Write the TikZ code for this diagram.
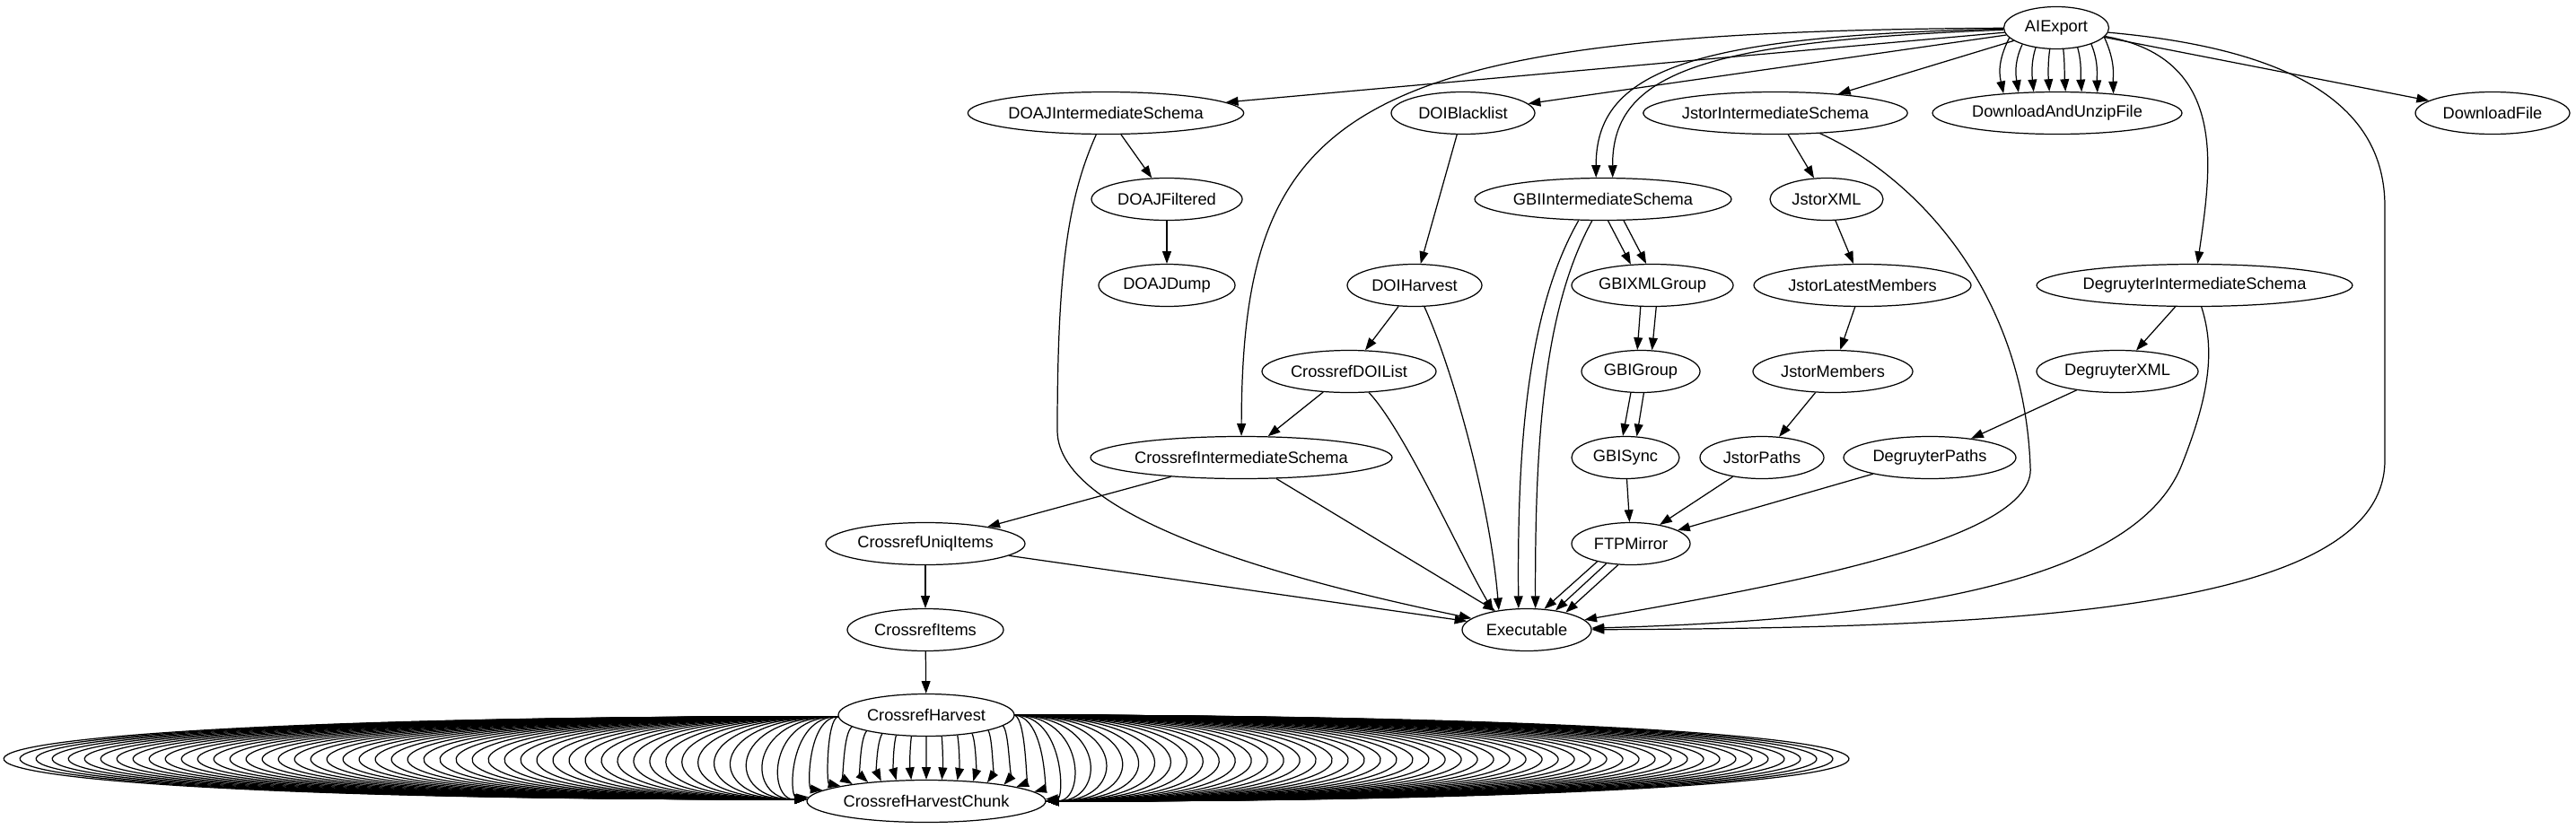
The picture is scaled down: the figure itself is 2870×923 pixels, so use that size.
\documentclass[tikz,border=0pt]{standalone}
\usepackage{fontspec}
\setmainfont{Liberation Sans}
\usetikzlibrary{shapes.geometric,arrows.meta}
% point on the top (#5=1) or bottom (#5=-1) border of node #2 (x radius #3) at x offset #4
\newcommand\mkbp[5]{%
  \pgfmathsetmacro\mkbpang{atan2((#5)*23.5*sqrt(max(0,1-((#4)/(#3))^2)),(#4))}%
  \coordinate (#1) at (#2.\mkbpang);}
\begin{document}
\begin{tikzpicture}[x=0.02cm,y=-0.02cm,
  nd/.style={ellipse,draw,line width=0.7pt,inner sep=0pt,minimum height=0.94cm,
    minimum width={#1*0.02cm},font=\fontsize{10.4}{12.5}\selectfont},
  edg/.style={-{Triangle[length=7.8pt,width=5.6pt]},line width=0.7pt}]
\useasboundingbox (0,0) rectangle (2870,923);

% ---------------- nodes ----------------
\node[nd=117] (AI)  at (2291,31)  {AIExport};
\node[nd=306] (DI)  at (1232,126) {DOAJIntermediateSchema};
\node[nd=160] (DB)  at (1630,126) {DOIBlacklist};
\node[nd=284] (JI)  at (1978,126) {JstorIntermediateSchema};
\node[nd=278] (DU)  at (2292,126) {DownloadAndUnzipFile};
\node[nd=172] (DF)  at (2777,126) {DownloadFile};
\node[nd=168] (DFi) at (1300,222) {DOAJFiltered};
\node[nd=286] (GI)  at (1786,222) {GBIIntermediateSchema};
\node[nd=126] (JX)  at (2035,222) {JstorXML};
\node[nd=152] (DD)  at (1300,318) {DOAJDump};
\node[nd=150] (DH)  at (1576,318) {DOIHarvest};
\node[nd=180] (GX)  at (1841,318) {GBIXMLGroup};
\node[nd=242] (JL)  at (2075,318) {JstorLatestMembers};
\node[nd=348] (GD)  at (2445,318) {DegruyterIntermediateSchema};
\node[nd=194] (CD)  at (1503,414) {CrossrefDOIList};
\node[nd=132] (GG)  at (1828,414) {GBIGroup};
\node[nd=178] (JM)  at (2042,414) {JstorMembers};
\node[nd=180] (DX)  at (2359,414) {DegruyterXML};
\node[nd=334] (CI)  at (1383,510) {CrossrefIntermediateSchema};
\node[nd=120] (GS)  at (1811,510) {GBISync};
\node[nd=138] (JP)  at (1963,510) {JstorPaths};
\node[nd=192] (DP)  at (2150,510) {DegruyterPaths};
\node[nd=222] (CU)  at (1031,606) {CrossrefUniqItems};
\node[nd=132] (FM)  at (1817,606) {FTPMirror};
\node[nd=174] (CX)  at (1031,702) {CrossrefItems};
\node[nd=144] (EX)  at (1701,702) {Executable};
\node[nd=196] (CH)  at (1032,797) {CrossrefHarvest};
\node[nd=266] (CC)  at (1032,893) {CrossrefHarvestChunk};

% ---------------- AIExport ----------------
\draw[edg] (AI) -- (DI);
\draw[edg] (AI) -- (DB);
\draw[edg] (AI) -- (JI);
\draw[edg] (AI) -- (DF);
\mkbp{g1}{GI}{143}{-8}{1}
\mkbp{g2}{GI}{143}{10}{1}
\draw[edg] (AI) .. controls (1880,40) and (1778,80) .. (g1);
\draw[edg] (AI) .. controls (1900,46) and (1796,80) .. (g2);
\draw[edg] (AI) .. controls (1500,35) and (1384,120) .. (CI);
\draw[edg] (AI) .. controls (2485,65) and (2463,190) .. (GD);
\draw[edg] (AI) .. controls (2560,55) and (2657,120) .. (2657,230) -- (2657,513)
  .. controls (2657,680) and (2250,700) .. (EX);
\foreach \o in {-3.5,-2.5,-1.5,-0.5,0.5,1.5,2.5,3.5}{
  \mkbp{us}{AI}{58.5}{\o*15}{-1}
  \mkbp{ue}{DU}{139}{\o*17.2}{1}
  \draw[edg] (us) .. controls ({2291+\o*19},70) and ({2291+\o*18},85) .. (ue);
}

% ---------------- DOAJ ----------------
\draw[edg] (DI) -- (DFi);
\draw[edg] (DFi) -- (DD);
\draw[edg] (DI) .. controls (1190,220) and (1178,300) .. (1178,480)
  .. controls (1178,580) and (1450,650) .. (EX);

% ---------------- DOI / Crossref ----------------
\draw[edg] (DB) -- (DH);
\draw[edg] (DH) -- (CD);
\mkbp{x1}{EX}{72}{-31}{1}
\draw[edg] (DH) .. controls (1618,410) and (1660,560) .. (x1);
\draw[edg] (CD) -- (CI);
\mkbp{x2}{EX}{72}{-37}{1}
\draw[edg] (CD) .. controls (1565,480) and (1625,615) .. (x2);
\draw[edg] (CI) -- (CU);
\draw[edg] (CI) -- (EX);
\draw[edg] (CU) -- (CX);
\draw[edg] (CU) -- (EX);
\draw[edg] (CX) -- (CH);

% ---------------- GBI ----------------
\mkbp{a1}{GI}{143}{5}{-1}  \mkbp{b1}{GX}{90}{-24}{1}
\mkbp{a2}{GI}{143}{22}{-1} \mkbp{b2}{GX}{90}{-7}{1}
\draw[edg] (a1) -- (b1);
\draw[edg] (a2) -- (b2);
\mkbp{a1}{GX}{90}{-13}{-1} \mkbp{b1}{GG}{66}{-4}{1}
\mkbp{a2}{GX}{90}{4}{-1}   \mkbp{b2}{GG}{66}{12}{1}
\draw[edg] (a1) -- (b1);
\draw[edg] (a2) -- (b2);
\mkbp{a1}{GG}{66}{-11}{-1} \mkbp{b1}{GS}{60}{-3}{1}
\mkbp{a2}{GG}{66}{3}{-1}   \mkbp{b2}{GS}{60}{12}{1}
\draw[edg] (a1) -- (b1);
\draw[edg] (a2) -- (b2);
\draw[edg] (GS) -- (FM);
\mkbp{a1}{GI}{143}{-27}{-1} \mkbp{b1}{EX}{72}{-9}{1}
\mkbp{a2}{GI}{143}{-12}{-1} \mkbp{b2}{EX}{72}{9}{1}
\draw[edg] (a1) .. controls (1705,340) and (1690,480) .. (b1);
\draw[edg] (a2) .. controls (1722,340) and (1710,480) .. (b2);
\mkbp{a1}{FM}{66}{-37}{-1} \mkbp{b1}{EX}{72}{19}{1}
\mkbp{a2}{FM}{66}{-27}{-1} \mkbp{b2}{EX}{72}{31}{1}
\mkbp{a3}{FM}{66}{-14}{-1} \mkbp{b3}{EX}{72}{42}{1}
\draw[edg] (a1) -- (b1);
\draw[edg] (a2) -- (b2);
\draw[edg] (a3) -- (b3);

% ---------------- Jstor ----------------
\draw[edg] (JI) -- (JX);
\draw[edg] (JX) -- (JL);
\draw[edg] (JL) -- (JM);
\draw[edg] (JM) -- (JP);
\draw[edg] (JP) -- (FM);
\draw[edg] (JI) .. controls (2140,200) and (2255,330) .. (2262,520)
  .. controls (2270,600) and (2000,650) .. (EX);

% ---------------- Degruyter ----------------
\draw[edg] (GD) -- (DX);
\draw[edg] (DX) -- (DP);
\draw[edg] (DP) -- (FM);
\draw[edg] (GD) .. controls (2468,390) and (2462,440) .. (2430,520)
  .. controls (2380,640) and (2150,690) .. (EX);

% ---------------- CrossrefHarvest -> CrossrefHarvestChunk ----------------
\foreach \k in {-57,...,57}{
  \pgfmathsetmacro\ak{abs(\k)}
  \pgfmathsetmacro\sg{(\k<0)?-1:1}
  \pgfmathsetmacro\phS{min(87,asin(min(1,16.5*\ak/98)))}
  \pgfmathsetmacro\phE{min(88,asin(min(1,16.5*\ak/133)))}
  \pgfmathsetmacro\xs{1032+\sg*98*sin(\phS)}
  \pgfmathsetmacro\ys{797+23.5*cos(\phS)}
  \pgfmathsetmacro\xe{1032+\sg*133*sin(\phE)}
  \pgfmathsetmacro\ye{893-23.5*cos(\phE)}
  \pgfmathsetmacro\Xc{(1032+18*\k-(\xs+\xe)/8)/0.75}
  \pgfmathsetmacro\wgt{min(1,\ak/8)}
  \pgfmathsetmacro\angS{atan2(797-\ys,\xs-1032)}
  \pgfmathsetmacro\angE{atan2(893-\ye,\xe-1032)}
  \draw[edg] (CH.\angS) .. controls (\Xc,{\ys+(1-\wgt)*18}) and (\Xc,{\ye-(1-\wgt)*18}) .. (CC.\angE);
}
\end{tikzpicture}
\end{document}
